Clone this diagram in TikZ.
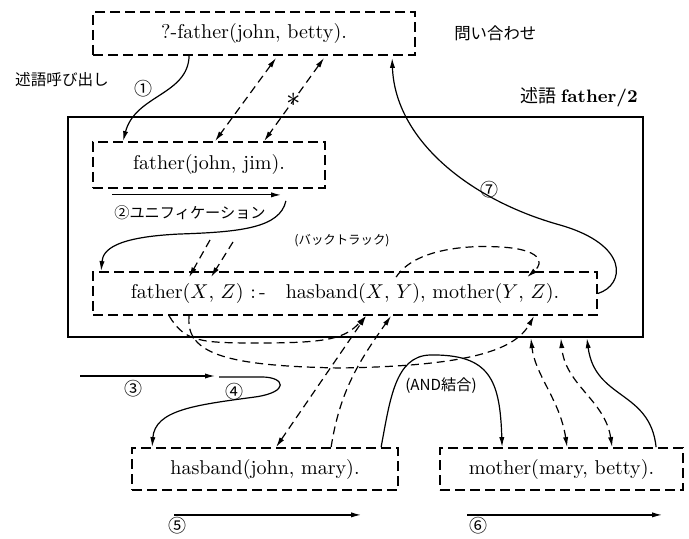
\documentclass[tikz,border=0pt]{standalone}
\usepackage{fontspec}
\newfontfamily\jp{Noto Sans CJK JP}
\usetikzlibrary{arrows.meta, positioning}

\begin{document}
\begin{tikzpicture}[
    x=0.5pt, y=-0.5pt,
    every node/.style={font=\normalsize},
    term/.style={rectangle, draw, dash pattern=on 5pt off 2.5pt, line width=0.9pt, inner sep=0pt, minimum height=21.5pt},
    predbox/.style={rectangle, draw, line width=1.1pt, inner sep=0pt},
    lbl/.style={font=\jp\fontsize{8.2}{10}\selectfont, inner sep=1pt},
    num/.style={font=\jp\small, inner sep=1pt},
    flow/.style={-{Latex[length=5pt,width=2.6pt]}, line width=0.6pt},
    link/.style={flow, dash pattern=on 4pt off 2.5pt},
    both/.style={link, {Latex[length=5pt,width=2.6pt]}-{Latex[length=5pt,width=2.6pt]}},
]
\useasboundingbox (0,0) rectangle (689,539);

% terms
\node[term, minimum width=161pt] (query) at (254,33.5) {?-father(john, betty).};
\node[predbox, minimum width=287.5pt, minimum height=110pt] (pred) at (355.5,227) {};
\node[term, minimum width=116pt, minimum height=23pt] (fact) at (209,165) {father(john, jim).};
\node[term, minimum width=252pt] (rule) at (345,293.5) {father($X$, $Z$)\ :\,-\quad hasband($X$, $Y$),\ mother($Y$, $Z$).};
\node[term, minimum width=133pt, minimum height=21pt] (hus) at (265,469) {hasband(john, mary).};
\node[term, minimum width=121.5pt, minimum height=21pt] (moth) at (561.5,469) {mother(mary, betty).};

% labels
\node[lbl, right=18pt of query] (ask) {問い合わせ};
\node[lbl, font=\jp\small, anchor=south east] (predname) at ([xshift=-2pt,yshift=3pt]pred.north east) {述語 {\rmfamily\bfseries father/2}};
\node[lbl, font=\jp\fontsize{7.8}{10}\selectfont] (call) at (62,80) {述語呼び出し};
\node[num] (n1) at (143,89) {①};
\node[lbl, font=\jp\fontsize{7.6}{10}\selectfont] (unify) at (190,213) {②ユニフィケーション};
\node[lbl, font=\jp\fontsize{6.2}{8}\selectfont] (back) at (342,241) {(バックトラック)};
\node[num] (n7) at (489,190) {⑦};
\node[num] (n3) at (133,389) {③};
\node[num] (n4) at (234,392) {④};
\node[lbl, font=\jp\fontsize{7.6}{10}\selectfont] (andjoin) at (441,386) {(AND結合)};
\node[num] (n5) at (177,526) {⑤};
\node[num] (n6) at (478,526) {⑥};

\coordinate (u1) at (210,240);
\coordinate (u2) at (233,242);
\coordinate (s3) at (80,376);
\coordinate (e3) at (215,376);
\coordinate (s4) at (219,377);

% call and unification
\draw[flow] ([xshift=48.5pt]query.south west) .. controls (188,95) and (135,95) .. ([xshift=15.5pt]fact.north west);
\draw[both] ([xshift=92pt,yshift=-1pt]query.south west) -- ([xshift=61.5pt]fact.north west);
\draw[both] ([xshift=116pt,yshift=-1pt]query.south west) -- node[pos=.5, inner sep=0pt] (star) {\Large$\ast$} ([xshift=86pt]fact.north west);
\draw[flow] ([xshift=10pt,yshift=-3pt]fact.south west) -- ([xshift=94.5pt,yshift=-3pt]fact.south west);
\draw[flow] ([xshift=-20pt,yshift=-6pt]fact.south east) .. controls (280,228) and (240,232) .. (180,234) .. controls (115,237) and (103,250) .. ([xshift=4.5pt]rule.north west);
\draw[link] (u1) -- ([xshift=48.5pt,yshift=-3pt]rule.north west);
\draw[link] (u2) -- ([xshift=59.5pt,yshift=-3pt]rule.north west);
\draw[link] ([xshift=152pt,yshift=-3pt]rule.north west) .. controls (415,248) and (470,245) .. (500,247) .. controls (540,249) and (545,262) .. ([xshift=217.5pt,yshift=-3pt]rule.north west);

% answer
\draw[flow] (rule.east) .. controls (625,285) and (630,245) .. (560,225) .. controls (470,200) and (395,140) .. ([xshift=150pt,yshift=-1pt]query.south west);

% body goals
\draw[link] ([xshift=38.5pt]rule.south west) .. controls (185,342) and (200,343) .. (260,343) .. controls (330,343) and (345,338) .. ([xshift=137pt]rule.south west);
\draw[link] ([xshift=48.5pt]rule.south west) .. controls (185,355) and (230,366) .. (340,368) .. controls (470,366) and (515,350) .. ([xshift=221pt]rule.south west);
\draw[flow] (s3) -- (e3);
\draw[flow] (s4) -- (262,377) .. controls (285,377) and (290,392) .. (255,397) .. controls (195,405) and (155,410) .. ([xshift=10.5pt]hus.north west);
\draw[both] ([xshift=72.5pt]hus.north west) -- ([xshift=137pt]rule.south west);
\draw[link] ([xshift=100pt]hus.north west) .. controls (340,390) and (360,360) .. ([xshift=149.5pt]rule.south west);
\draw[flow] ([xshift=125pt]hus.north west) .. controls (390,400) and (395,356) .. (430,355) .. controls (490,354) and (500,380) .. ([xshift=31.5pt]moth.north west);
\draw[both] ([xshift=64pt]moth.north west) .. controls (560,400) and (535,375) .. ([xshift=232pt]pred.south west);
\draw[both] ([xshift=86.5pt]moth.north west) .. controls (605,400) and (565,385) .. ([xshift=247pt]pred.south west);
\draw[flow] ([xshift=108.5pt]moth.north west) .. controls (650,390) and (595,400) .. ([xshift=260pt]pred.south west);
\draw[flow] ([xshift=21.5pt,yshift=-12pt]hus.south west) -- ([xshift=115pt,yshift=-12pt]hus.south west);
\draw[flow] ([xshift=14pt,yshift=-12pt]moth.south west) -- ([xshift=111.5pt,yshift=-12pt]moth.south west);
\end{tikzpicture}
\end{document}
